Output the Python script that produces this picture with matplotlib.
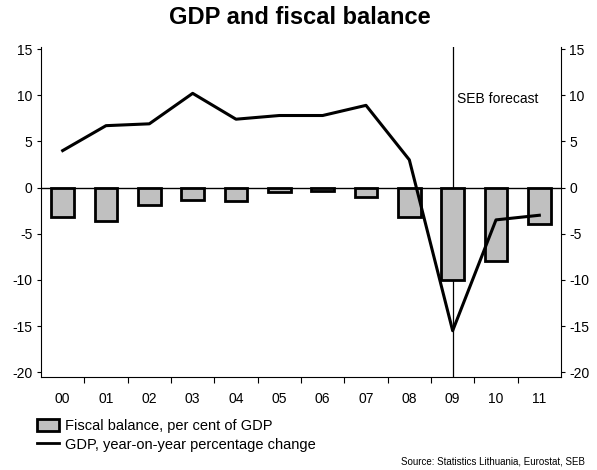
import matplotlib.pyplot as plt
import numpy as np
from matplotlib.patches import Patch
from matplotlib.lines import Line2D

plt.rcParams['font.family'] = ['Liberation Sans', 'DejaVu Sans']

years = ["00", "01", "02", "03", "04", "05", "06", "07", "08", "09", "10", "11"]
fiscal_balance = [-3.2, -3.6, -1.9, -1.3, -1.5, -0.5, -0.4, -1.0, -3.2, -10.0, -8.0, -4.0]
gdp_growth = [4.0, 6.7, 6.9, 10.2, 7.4, 7.8, 7.8, 8.9, 3.0, -15.5, -3.5, -3.0]
yticks = [15, 10, 5, 0, -5, -10, -15, -20]

fig = plt.figure(figsize=(5.97, 4.70), dpi=100)
ax = fig.add_axes([41 / 597, 1 - 376.7 / 470, 520 / 597, 330 / 470])

x = np.arange(len(years))
ax.bar(x, fiscal_balance, width=0.52, color="#c0c0c0", edgecolor="black", linewidth=2, zorder=2)
ax.plot(x, gdp_growth, color="black", linewidth=2.2, zorder=3)
ax.axhline(0, color="black", linewidth=1, zorder=1)
ax.axvline(9, color="black", linewidth=0.9, zorder=1)
ax.text(9.1, 9.6, "SEB forecast", fontsize=10, va="center", ha="left")

ax.set_xlim(-0.5, len(years) - 0.5)
ax.set_ylim(-20.48, 15.25)
ax.set_yticks(yticks)
ax.set_yticklabels([str(v) for v in yticks], fontsize=10)
ax.tick_params(axis="y", which="both", left=True, right=True, labelleft=True, labelright=True,
               direction="out", length=3, width=0.8, pad=3)

ax.set_xticks(x)
ax.set_xticklabels(years, fontsize=10)
ax.tick_params(axis="x", which="major", length=0, pad=11)
ax.set_xticks(np.arange(0.5, len(years) - 0.5, 1), minor=True)
ax.tick_params(axis="x", which="minor", direction="out", length=4, width=0.8)

ax.spines["top"].set_visible(False)
for s in ["left", "right", "bottom"]:
    ax.spines[s].set_linewidth(0.8)

fig.text(0.502, 1 - 18 / 470, "GDP and fiscal balance", fontsize=17, fontweight="bold",
         ha="center", va="center")

handles = [
    Patch(facecolor="#c0c0c0", edgecolor="black", linewidth=2),
    Line2D([0], [0], color="black", linewidth=2),
]
labels = ["Fiscal balance, per cent of GDP", "GDP, year-on-year percentage change"]
fig.legend(handles, labels, loc="upper left", bbox_to_anchor=(37 / 597, 1 - 419 / 470),
           frameon=False, fontsize=10.5, handlelength=1.5, handleheight=0.9,
           handletextpad=0.4, labelspacing=0.3, borderaxespad=0, borderpad=0)

fig.text(585 / 597, 1 - 462 / 470, "Source: Statistics Lithuania, Eurostat, SEB", fontsize=7,
         ha="right", va="center")

fig.savefig("out.png", dpi=100)
